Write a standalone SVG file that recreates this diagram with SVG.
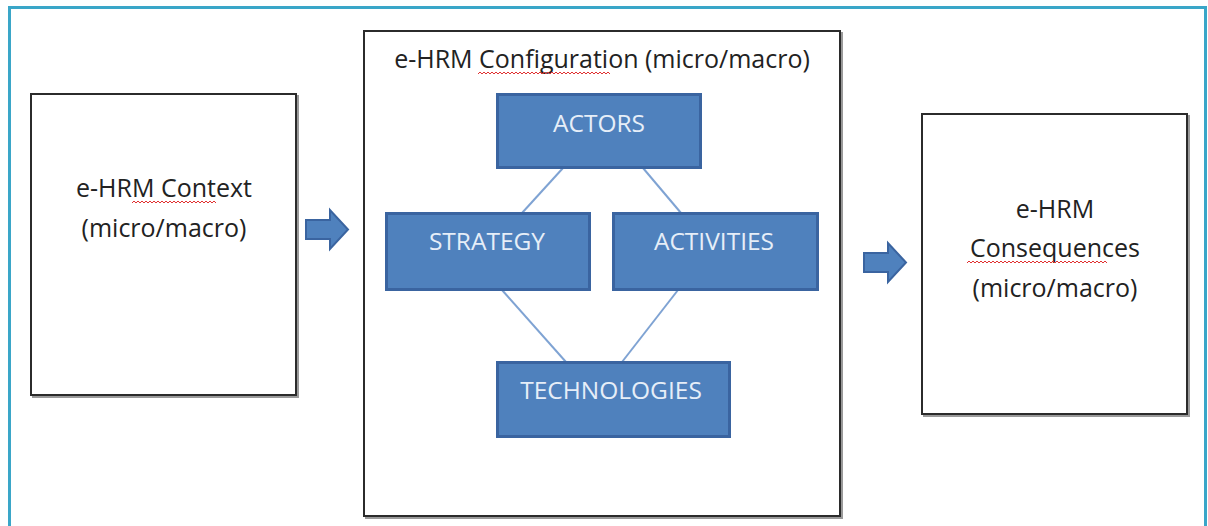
<svg xmlns="http://www.w3.org/2000/svg" width="1208" height="526" viewBox="0 0 1208 526">
<defs>
<style>
.frame{fill:#ffffff;stroke:#3aa6c8;stroke-width:3}
.box{fill:#ffffff;stroke:#2b2b2b;stroke-width:2}
.shadow{fill:none;stroke:#9a9a9a;stroke-width:2}
.blue{fill:#4f81bd;stroke:#3a64a0;stroke-width:3}
.lbl{font-family:"Open Sans","Liberation Sans",sans-serif;font-size:25px;fill:#222222;text-anchor:middle}
.wlbl{font-family:"Open Sans","Liberation Sans",sans-serif;font-size:24.5px;fill:#e6eef8;text-anchor:middle}
.link{stroke:#7fa3d3;stroke-width:2;fill:none}
.arrow{fill:#4f81bd;stroke:#3a64a0;stroke-width:2}
.squig{fill:none;stroke:#e03030;stroke-width:1}
</style>
</defs>
<rect width="1208" height="526" fill="#ffffff"/>
<path class="frame" d="M9.5,530 V7.5 H1205.5 V530"/>

<g id="context">
<rect class="shadow" x="33" y="96" width="265" height="301"/>
<rect class="box" x="31" y="94" width="265" height="301"/>
<text class="lbl" x="164" y="197">e-HRM Context</text>
<path class="squig" d="M132,203 l2,-2 l2,2 l2,-2 l2,2 l2,-2 l2,2 l2,-2 l2,2 l2,-2 l2,2 l2,-2 l2,2 l2,-2 l2,2 l2,-2 l2,2 l2,-2 l2,2 l2,-2 l2,2 l2,-2 l2,2 l2,-2 l2,2 l2,-2 l2,2 l2,-2 l2,2 l2,-2 l2,2 l2,-2 l2,2 l2,-2 l2,2 l2,-2 l2,2 l2,-2 l2,2 l2,-2 l2,2 l2,-2 l2,2"/>
<text class="lbl" x="164" y="237">(micro/macro)</text>
</g>

<g id="configuration">
<rect class="shadow" x="366" y="33" width="476" height="485"/>
<rect class="box" x="364" y="31" width="476" height="485"/>
<text class="lbl" x="602" y="68">e-HRM Configuration (micro/macro)</text>
<path class="squig" d="M478,74 l2,-2 l2,2 l2,-2 l2,2 l2,-2 l2,2 l2,-2 l2,2 l2,-2 l2,2 l2,-2 l2,2 l2,-2 l2,2 l2,-2 l2,2 l2,-2 l2,2 l2,-2 l2,2 l2,-2 l2,2 l2,-2 l2,2 l2,-2 l2,2 l2,-2 l2,2 l2,-2 l2,2 l2,-2 l2,2 l2,-2 l2,2 l2,-2 l2,2 l2,-2 l2,2 l2,-2 l2,2 l2,-2 l2,2 l2,-2 l2,2 l2,-2 l2,2 l2,-2 l2,2 l2,-2 l2,2 l2,-2 l2,2 l2,-2 l2,2 l2,-2 l2,2 l2,-2 l2,2 l2,-2 l2,2 l2,-2 l2,2 l2,-2 l2,2 l2,-2 l2,2"/>
</g>

<g id="connectors">
<line class="link" x1="563" y1="168" x2="522" y2="213"/>
<line class="link" x1="643" y1="168" x2="681" y2="213"/>
<line class="link" x1="502" y1="290" x2="566" y2="362"/>
<line class="link" x1="678" y1="290" x2="622" y2="362"/>
<path class="arrow" d="M306,220 H330 V210 L348,229.5 L330,249 V239 H306 Z"/>
<path class="arrow" d="M864,253 H888 V243 L906,262.5 L888,282 V272 H864 Z"/>
</g>

<g id="actors">
<rect class="blue" x="497.5" y="94.5" width="203" height="73"/>
<text class="wlbl" x="599" y="132">ACTORS</text>
</g>
<g id="strategy">
<rect class="blue" x="386.5" y="213.5" width="203" height="76"/>
<text class="wlbl" x="487" y="250">STRATEGY</text>
</g>
<g id="activities">
<rect class="blue" x="613.5" y="213.5" width="204" height="76"/>
<text class="wlbl" x="714" y="250">ACTIVITIES</text>
</g>
<g id="technologies">
<rect class="blue" x="497.5" y="362.5" width="232" height="74"/>
<text class="wlbl" x="611" y="399">TECHNOLOGIES</text>
</g>

<g id="consequences">
<rect class="shadow" x="924" y="116" width="265" height="300"/>
<rect class="box" x="922" y="114" width="265" height="300"/>
<text class="lbl" x="1055" y="218">e-HRM</text>
<text class="lbl" x="1055" y="257">Consequences</text>
<path class="squig" d="M967,263 l2,-2 l2,2 l2,-2 l2,2 l2,-2 l2,2 l2,-2 l2,2 l2,-2 l2,2 l2,-2 l2,2 l2,-2 l2,2 l2,-2 l2,2 l2,-2 l2,2 l2,-2 l2,2 l2,-2 l2,2 l2,-2 l2,2 l2,-2 l2,2 l2,-2 l2,2 l2,-2 l2,2 l2,-2 l2,2 l2,-2 l2,2 l2,-2 l2,2 l2,-2 l2,2 l2,-2 l2,2 l2,-2 l2,2 l2,-2 l2,2 l2,-2 l2,2 l2,-2 l2,2 l2,-2 l2,2 l2,-2 l2,2 l2,-2 l2,2 l2,-2 l2,2 l2,-2 l2,2 l2,-2 l2,2 l2,-2 l2,2 l2,-2 l2,2 l2,-2 l2,2 l2,-2 l2,2 l2,-2 l2,2"/>
<text class="lbl" x="1055" y="297">(micro/macro)</text>
</g>
</svg>
